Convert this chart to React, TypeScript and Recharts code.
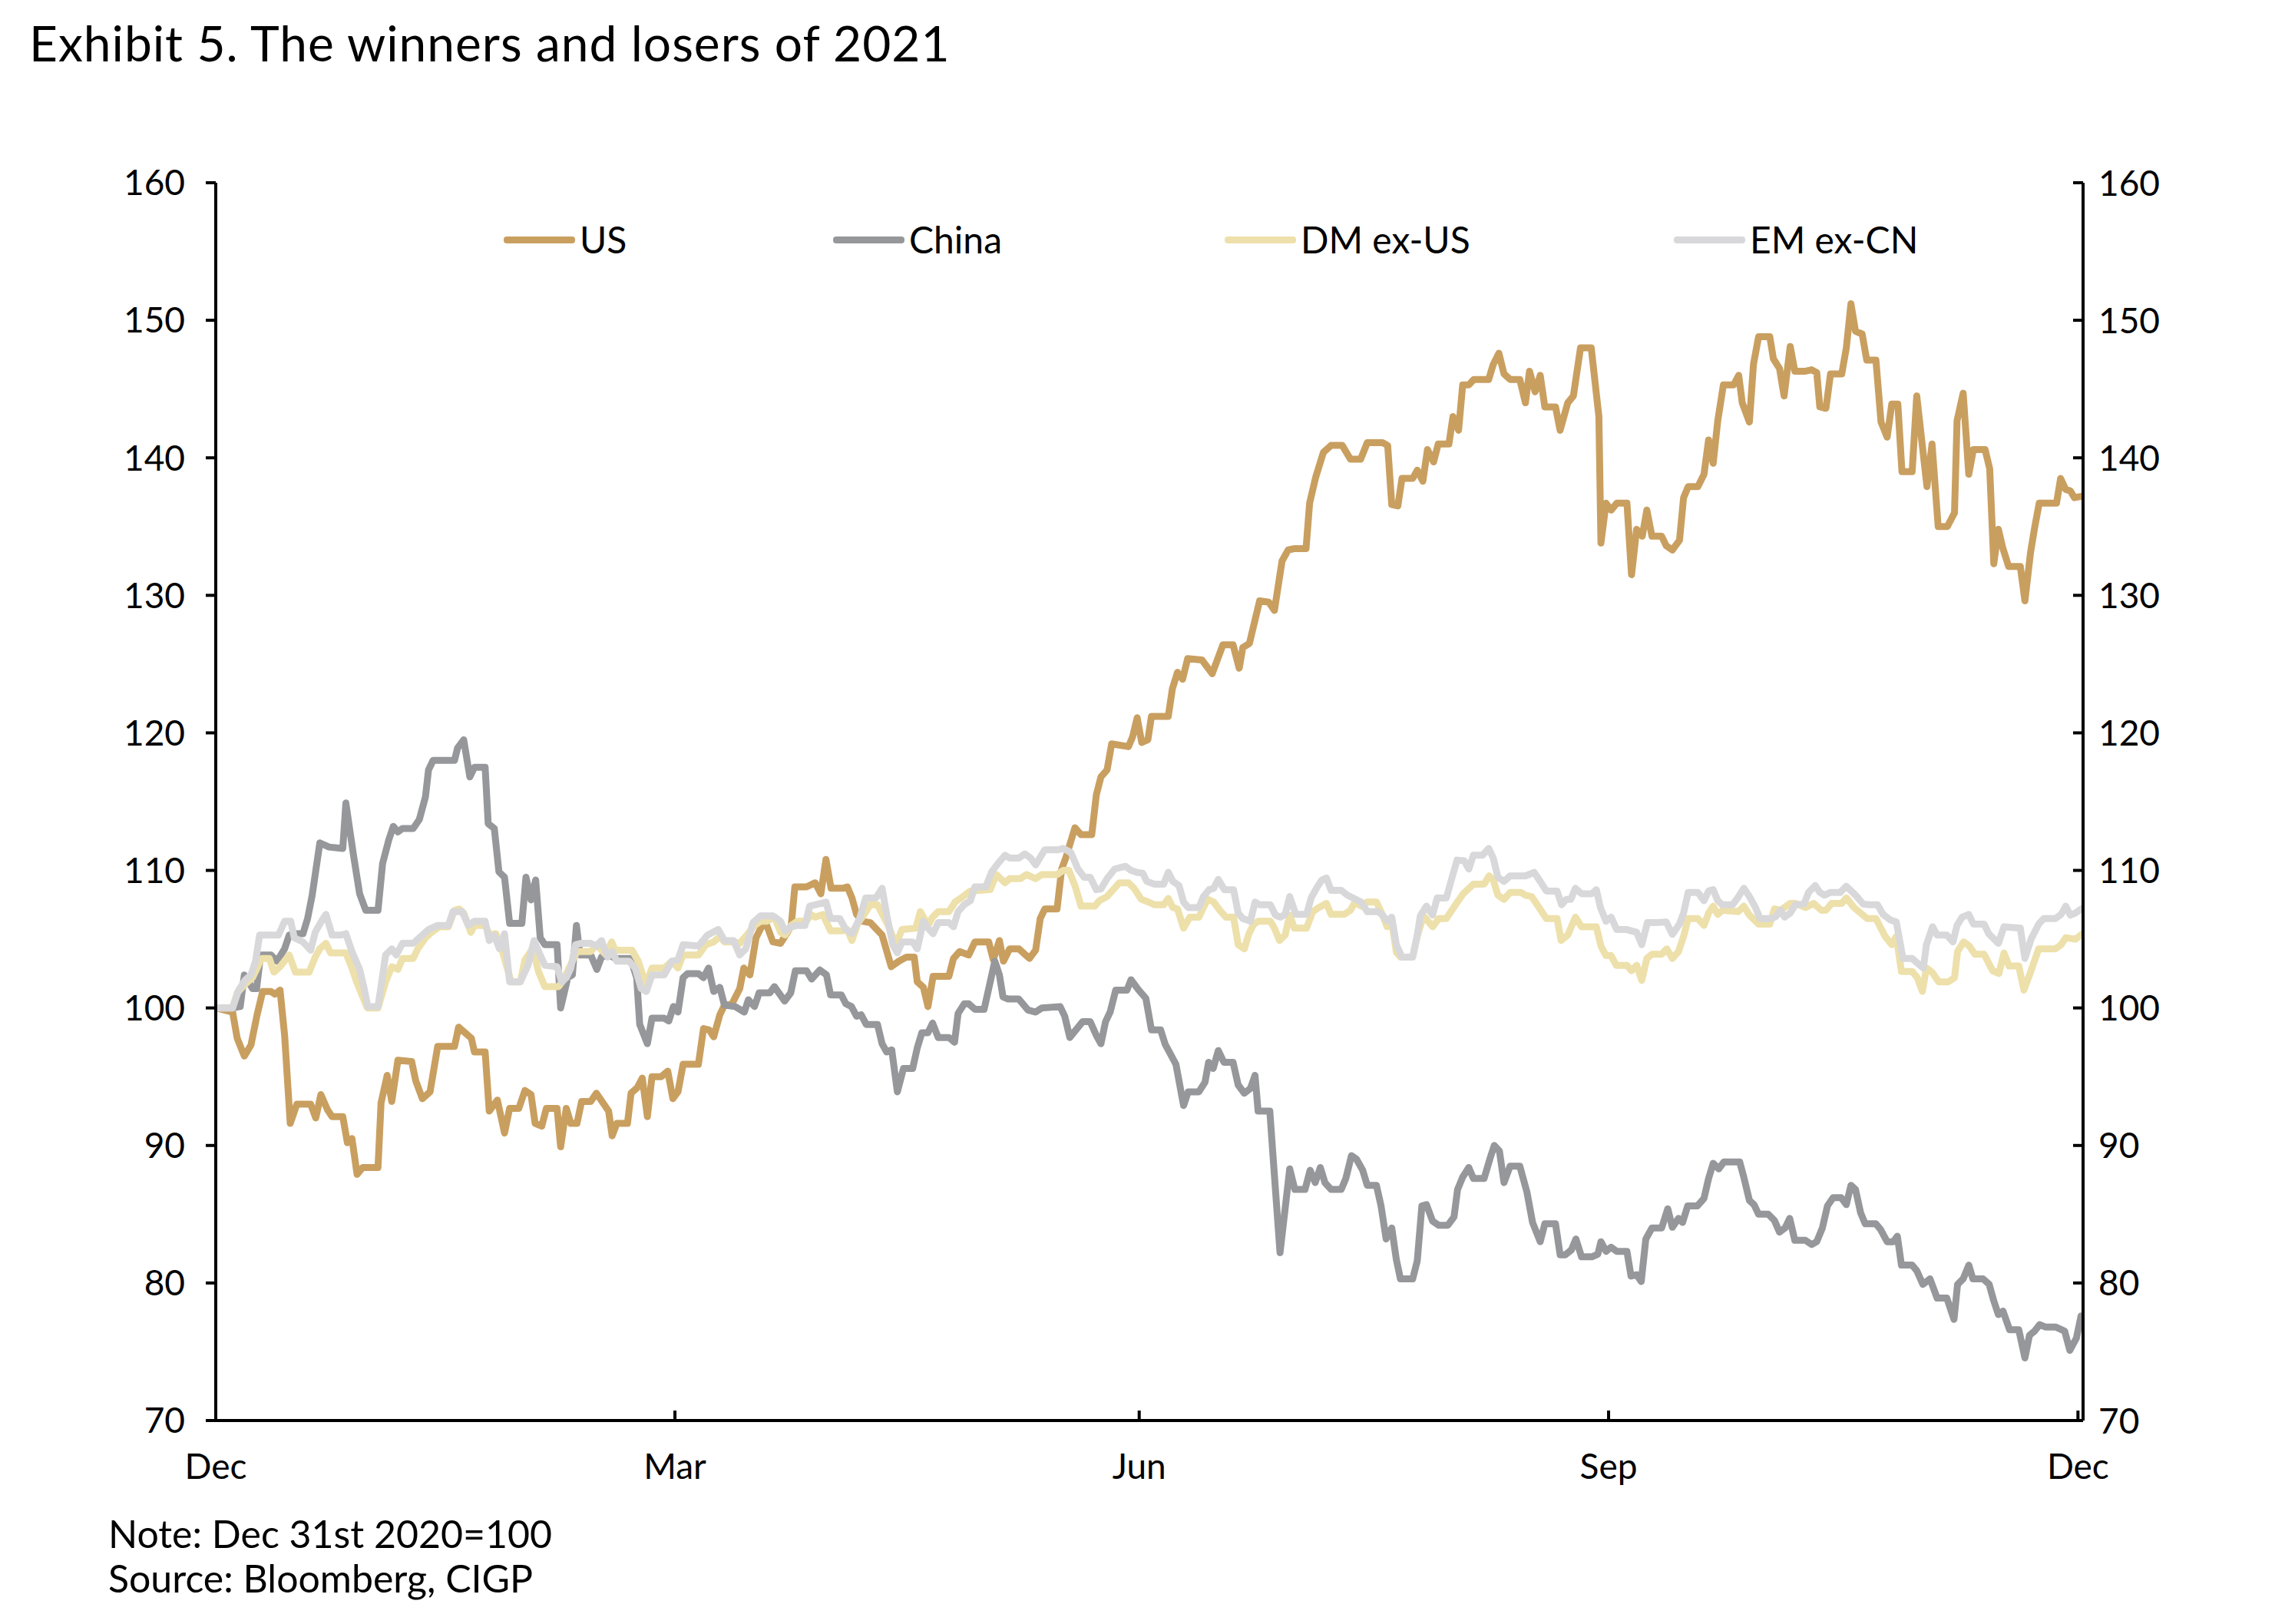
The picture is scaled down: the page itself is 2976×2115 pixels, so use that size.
import { LineChart, Line, XAxis, YAxis, Legend } from "recharts";

const FONT = "Lato, 'Noto Sans', sans-serif";

// x = days since Dec 31st 2020, y = index (Dec 31st 2020 = 100)
const monthTicks = [0, 90, 181, 273, 365];
const monthLabels = ["Dec", "Mar", "Jun", "Sep", "Dec"];
const valueTicks = [70, 80, 90, 100, 110, 120, 130, 140, 150, 160];

const usSeries: [number, number][] = [
  [0, 100], [3.3, 99.7], [4.2, 97.8], [5.6, 96.5], [6.9, 97.3], [8.1, 99.5], [9.2, 101.2], [10.8, 101.2],
  [11.6, 101.0], [12.6, 101.3], [13.5, 98.0], [14.6, 91.6], [15.9, 93.0], [18.6, 93.0], [19.6, 92.0],
  [20.6, 93.7], [21.9, 92.6], [22.8, 92.1], [24.9, 92.1], [25.8, 90.2], [26.7, 90.5], [27.7, 87.9],
  [28.8, 88.4], [31.8, 88.4], [32.4, 93.1], [33.6, 95.1], [34.5, 93.2], [35.7, 96.2], [38.4, 96.1],
  [39.2, 94.7], [40.5, 93.4], [42.0, 93.9], [43.5, 97.2], [46.8, 97.2], [47.6, 98.6], [50.1, 97.8],
  [50.7, 96.8], [52.8, 96.8], [53.6, 92.5], [55.2, 93.3], [56.6, 90.9], [57.6, 92.7], [59.4, 92.7],
  [60.6, 94.0], [61.8, 93.7], [62.6, 91.6], [63.9, 91.4], [64.8, 92.7], [66.9, 92.7], [67.6, 89.9],
  [68.7, 92.7], [69.6, 91.6], [70.8, 91.6], [71.7, 93.2], [73.5, 93.2], [74.6, 93.8], [77.0, 92.5],
  [77.7, 90.7], [78.6, 91.6], [80.7, 91.6], [81.4, 93.8], [82.6, 94.2], [83.6, 94.9], [84.6, 92.1],
  [85.5, 95.0], [87.3, 95.0], [88.6, 95.4], [89.6, 93.4], [90.6, 93.9], [91.6, 95.9], [94.6, 95.9],
  [95.6, 98.5], [96.7, 98.4], [97.6, 97.9], [98.8, 99.5], [99.7, 100.2], [101.2, 100.3], [102.7, 101.4],
  [103.5, 102.9], [104.7, 102.4], [105.9, 105.1], [107.1, 106.0], [108.0, 106.0], [109.2, 104.8],
  [110.7, 104.7], [111.9, 105.4], [112.8, 106.0], [113.5, 108.8], [115.8, 108.8], [117.5, 109.1],
  [118.6, 108.3], [119.6, 110.8], [120.6, 108.7], [122.9, 108.7], [123.8, 108.8], [124.7, 108.0],
  [125.6, 106.8], [126.8, 106.3], [128.3, 106.2], [130.6, 105.3], [132.4, 103.0], [133.9, 103.4],
  [135.4, 103.7], [136.9, 103.7], [137.5, 101.9], [138.7, 101.5], [139.6, 100.1], [140.6, 102.3],
  [143.7, 102.3], [144.6, 103.6], [145.8, 104.1], [147.6, 103.85], [148.8, 104.8], [151.5, 104.8],
  [152.4, 103.5], [153.6, 104.9], [154.4, 103.4], [155.6, 104.3], [157.4, 104.3], [158.6, 103.9],
  [159.5, 103.6], [160.7, 104.2], [161.6, 106.5], [162.5, 107.2], [164.9, 107.2], [165.8, 110.1],
  [166.6, 110.9], [168.4, 113.1], [169.6, 112.6], [171.7, 112.6], [172.6, 115.5], [173.5, 116.8],
  [174.7, 117.3], [175.6, 119.2], [178.9, 119.0], [179.7, 119.7], [180.6, 121.1], [181.5, 119.3],
  [182.7, 119.5], [183.4, 121.2], [186.7, 121.2], [187.5, 123.2], [188.5, 124.4], [189.5, 123.9],
  [190.5, 125.4], [193.3, 125.3], [195.3, 124.3], [197.4, 126.4], [199.4, 126.4], [200.6, 124.7],
  [201.3, 126.2], [202.6, 126.5], [204.6, 129.6], [206.4, 129.5], [207.5, 128.9], [209.0, 132.5],
  [210.2, 133.3], [211.5, 133.4], [213.7, 133.4], [214.4, 136.7], [215.6, 138.6], [217.1, 140.4],
  [218.6, 140.9], [220.8, 140.9], [222.4, 139.9], [224.4, 139.9], [225.7, 141.1], [228.7, 141.1],
  [229.7, 140.9], [230.5, 136.6], [231.7, 136.5], [232.5, 138.5], [234.6, 138.5], [235.5, 139.1],
  [236.6, 138.3], [237.5, 140.6], [238.7, 139.7], [239.6, 141.0], [241.7, 141.0], [242.5, 143.0],
  [243.6, 142.0], [244.4, 145.3], [245.6, 145.3], [246.6, 145.7], [249.5, 145.7], [250.4, 146.8],
  [251.5, 147.6], [252.5, 146.1], [253.7, 145.7], [255.6, 145.7], [256.7, 144.0], [257.5, 146.3],
  [258.6, 144.8], [259.6, 146.0], [260.5, 143.7], [262.6, 143.7], [263.5, 142.0], [265.0, 144.0],
  [266.1, 144.5], [267.5, 148.0], [269.6, 148.0], [271.1, 143.0], [271.5, 133.8], [272.5, 136.7],
  [273.5, 136.2], [274.6, 136.7], [276.6, 136.7], [277.5, 131.5], [278.5, 134.8], [279.6, 134.3],
  [280.5, 136.2], [281.5, 134.3], [283.4, 134.3], [284.3, 133.6], [285.5, 133.3], [286.9, 134.0],
  [287.7, 137.1], [288.6, 137.9], [290.5, 137.9], [291.7, 138.8], [292.6, 141.3], [293.5, 139.6],
  [294.4, 142.7], [295.5, 145.3], [297.5, 145.3], [298.5, 146.0], [299.2, 144.0], [300.6, 142.6],
  [301.4, 146.8], [302.4, 148.8], [304.6, 148.8], [305.3, 147.2], [306.5, 146.5], [307.4, 144.5],
  [308.6, 148.1], [309.5, 146.3], [311.6, 146.3], [312.8, 146.4], [313.8, 146.2], [314.4, 143.7],
  [315.6, 143.6], [316.5, 146.1], [318.7, 146.1], [319.6, 148.0], [320.5, 151.2], [321.4, 149.2],
  [322.7, 149.0], [323.6, 147.1], [325.4, 147.1], [326.4, 142.6], [327.6, 141.5], [328.5, 143.9],
  [329.7, 143.9], [330.5, 139.0], [332.5, 139.0], [333.4, 144.5], [335.4, 137.9], [336.4, 141.0],
  [337.6, 135.0], [339.4, 135.0], [340.8, 136.0], [341.3, 142.7], [342.5, 144.7], [343.6, 138.8],
  [344.5, 140.6], [346.8, 140.6], [347.7, 139.2], [348.5, 132.3], [349.4, 134.8], [350.3, 133.4],
  [351.4, 132.1], [353.7, 132.1], [354.6, 129.6], [355.7, 133.1], [356.5, 134.9], [357.4, 136.7],
  [360.8, 136.7], [361.6, 138.5], [362.6, 137.7], [363.5, 137.6], [364.3, 137.1], [365.7, 137.2],
];

const chinaSeries: [number, number][] = [
  [0, 100], [3.3, 100], [4.8, 100.1], [5.6, 102.4], [6.3, 102.0], [7.2, 101.4], [8.0, 101.4],
  [8.8, 103.85], [10.8, 103.85], [12.0, 103.4], [13.5, 104.3], [14.4, 105.3], [15.3, 105.4],
  [17.1, 105.4], [18.0, 106.5], [18.9, 108.2], [20.4, 112.0], [22.2, 111.7], [24.9, 111.6],
  [25.5, 114.9], [27.0, 111.1], [28.2, 108.3], [29.4, 107.1], [31.8, 107.1], [32.7, 110.5],
  [33.9, 112.2], [34.8, 113.2], [35.7, 112.8], [36.6, 113.05], [38.7, 113.05], [39.9, 113.7],
  [41.1, 115.35], [41.7, 117.3], [42.6, 118.0], [46.8, 118.0], [47.4, 118.9], [48.6, 119.5],
  [49.8, 116.8], [50.7, 117.5], [52.8, 117.5], [53.4, 113.4], [54.6, 113.05], [55.5, 109.9],
  [56.6, 109.5], [57.6, 106.15], [60.0, 106.15], [60.8, 109.5], [61.8, 107.85], [62.7, 109.3],
  [63.6, 105.1], [64.5, 104.6], [66.9, 104.6], [67.6, 100.0], [69.0, 102.2], [69.9, 102.4],
  [70.7, 106.0], [71.4, 103.85], [73.5, 103.85], [74.7, 102.8], [75.6, 103.7], [77.1, 103.85],
  [78.3, 103.6], [81.3, 103.6], [82.5, 102.2], [83.1, 98.8], [84.6, 97.4], [85.5, 99.25],
  [87.9, 99.25], [88.8, 99.05], [89.7, 100.1], [90.6, 99.7], [91.6, 102.2], [92.5, 102.5],
  [94.6, 102.5], [95.6, 102.2], [96.6, 102.9], [97.6, 101.2], [98.8, 101.5], [99.7, 100.2],
  [101.8, 100.1], [103.6, 99.7], [104.4, 100.6], [105.6, 100.1], [106.5, 101.1], [108.6, 101.1],
  [109.5, 101.55], [111.5, 100.5], [112.7, 101.1], [113.6, 102.7], [115.8, 102.7], [116.8, 102.1],
  [118.4, 102.76], [119.7, 102.4], [120.5, 100.95], [122.6, 100.95], [123.5, 100.3], [124.6, 100.1],
  [125.6, 99.4], [126.5, 99.5], [127.5, 98.8], [129.7, 98.8], [130.6, 97.4], [131.5, 96.8],
  [132.5, 96.95], [133.6, 93.9], [134.8, 95.6], [136.6, 95.6], [137.5, 97.1], [138.4, 98.2],
  [139.6, 98.2], [140.5, 98.9], [141.6, 97.85], [143.7, 97.85], [144.8, 97.5], [145.5, 99.6],
  [146.7, 100.3], [147.6, 100.3], [148.8, 99.9], [150.6, 99.9], [152.7, 103.4], [153.6, 102.4],
  [154.3, 100.8], [155.3, 100.65], [157.4, 100.65], [159.2, 99.85], [160.7, 99.7], [161.9, 100.0],
  [165.5, 100.1], [166.4, 99.4], [167.4, 97.85], [169.9, 99.0], [171.4, 99.0], [172.6, 98.0],
  [173.5, 97.4], [174.4, 99.0], [175.3, 99.7], [176.4, 101.3], [178.6, 101.3], [179.4, 102.05],
  [180.9, 101.3], [182.3, 100.7], [183.4, 98.4], [185.2, 98.4], [186.1, 97.35], [188.2, 95.9],
  [189.7, 92.9], [190.6, 93.9], [192.7, 93.9], [193.9, 94.6], [194.6, 96.05], [195.5, 95.6],
  [196.5, 96.9], [197.6, 96.05], [199.4, 96.05], [200.4, 94.4], [201.6, 93.8], [202.8, 94.15],
  [203.7, 95.1], [204.3, 92.5], [206.6, 92.5], [207.1, 89.9], [208.6, 82.2], [209.6, 85.4],
  [210.5, 88.3], [211.5, 86.8], [213.5, 86.8], [214.5, 88.2], [215.5, 87.3], [216.5, 88.4],
  [217.4, 87.3], [218.6, 86.8], [220.6, 86.8], [221.5, 87.6], [222.6, 89.26], [223.6, 89.0],
  [224.8, 88.2], [225.7, 87.1], [227.5, 87.1], [228.4, 85.6], [229.4, 83.2], [230.5, 84.0],
  [231.4, 81.7], [232.2, 80.3], [234.6, 80.3], [235.5, 81.6], [236.4, 85.6], [237.3, 85.7],
  [238.5, 84.5], [239.7, 84.2], [241.5, 84.2], [242.7, 84.8], [243.4, 86.8], [244.4, 87.7],
  [245.6, 88.4], [246.5, 87.6], [248.6, 87.6], [249.8, 89.1], [250.6, 90.0], [251.6, 89.6],
  [252.5, 87.3], [253.7, 88.5], [255.6, 88.5], [257.0, 86.6], [258.1, 84.4], [259.6, 83.0],
  [260.5, 84.3], [262.6, 84.3], [263.5, 82.05], [264.5, 82.05], [265.7, 82.4], [266.6, 83.2],
  [267.7, 81.9], [269.7, 81.9], [270.9, 82.1], [271.5, 83.0], [272.5, 82.3], [273.5, 82.6],
  [274.6, 82.3], [276.6, 82.3], [277.4, 80.5], [278.5, 80.6], [279.4, 80.1], [280.3, 83.2],
  [281.5, 84.0], [283.4, 84.0], [284.6, 85.4], [285.5, 84.05], [286.7, 84.7], [287.5, 84.4],
  [288.5, 85.6], [290.4, 85.6], [291.7, 86.15], [292.6, 87.6], [293.5, 88.7], [294.6, 88.3],
  [295.6, 88.8], [298.7, 88.8], [299.5, 87.7], [300.6, 86.0], [301.5, 85.7], [302.4, 85.0],
  [304.3, 85.0], [305.5, 84.55], [306.5, 83.7], [307.6, 84.0], [308.5, 84.7], [309.5, 83.1],
  [311.6, 83.1], [312.8, 82.8], [313.8, 83.0], [314.9, 84.0], [315.9, 85.6], [317.0, 86.2],
  [318.6, 86.2], [319.6, 85.7], [320.5, 87.1], [321.4, 86.8], [322.4, 85.1], [323.3, 84.3],
  [325.4, 84.3], [326.3, 83.9], [327.6, 83.0], [328.8, 83.0], [329.6, 83.4], [330.4, 81.3],
  [332.5, 81.3], [333.4, 80.9], [334.6, 79.9], [336.0, 80.3], [337.4, 78.9], [339.3, 78.9],
  [340.7, 77.35], [341.4, 79.9], [342.5, 80.3], [343.6, 81.3], [344.4, 80.3], [346.4, 80.3],
  [347.6, 79.9], [348.5, 78.7], [349.4, 77.7], [350.3, 77.96], [351.6, 76.6], [353.4, 76.6],
  [354.6, 74.55], [355.5, 76.2], [356.5, 76.5], [357.5, 76.97], [358.6, 76.8], [360.6, 76.8],
  [362.4, 76.5], [363.4, 75.1], [364.7, 76.0], [365.6, 77.6],
];

const dmSeries: [number, number][] = [
  [0, 100], [3.3, 100], [4.2, 101.1], [5.7, 101.7], [7.2, 102.2], [8.1, 102.9], [9.0, 103.6],
  [10.5, 103.6], [11.4, 102.6], [12.6, 103.0], [14.4, 103.85], [15.6, 102.6], [18.3, 102.6],
  [19.5, 103.7], [20.4, 104.3], [21.6, 104.7], [22.5, 104.0], [25.5, 104.0], [26.7, 102.9],
  [27.6, 101.9], [29.7, 100.0], [31.8, 100.0], [33.3, 101.9], [34.5, 103.0], [35.7, 102.8],
  [36.6, 103.6], [38.7, 103.6], [39.6, 104.3], [41.1, 105.1], [42.3, 105.5], [43.8, 105.9],
  [45.6, 105.9], [46.8, 107.1], [47.7, 107.2], [48.6, 106.9], [50.0, 105.5], [50.7, 106.0],
  [52.8, 106.0], [53.7, 105.3], [54.9, 105.4], [55.8, 104.6], [57.9, 101.9], [59.7, 101.9],
  [60.6, 103.5], [62.1, 104.3], [63.3, 102.6], [64.5, 101.55], [67.2, 101.55], [68.1, 102.0],
  [69.9, 103.4], [70.8, 104.1], [73.5, 104.1], [74.6, 104.6], [76.5, 103.85], [77.6, 104.8],
  [78.3, 104.2], [81.6, 104.2], [82.8, 103.4], [84.3, 101.7], [85.5, 102.9], [87.9, 102.9],
  [89.4, 103.4], [90.6, 102.9], [91.6, 103.85], [94.6, 103.85], [96.1, 104.6], [97.6, 104.8],
  [98.8, 105.2], [99.7, 104.8], [101.5, 104.8], [102.7, 104.7], [104.1, 105.3], [105.6, 106.0],
  [106.8, 106.3], [108.0, 106.3], [109.5, 106.6], [110.7, 105.5], [111.6, 105.3], [112.8, 106.0],
  [114.0, 106.3], [115.8, 106.3], [116.6, 106.8], [117.5, 106.6], [119.0, 106.8], [120.5, 105.6],
  [122.6, 105.6], [123.8, 105.7], [124.7, 104.9], [125.9, 106.2], [127.1, 106.8], [128.3, 107.5],
  [129.7, 107.5], [131.8, 106.0], [133.3, 104.6], [134.5, 105.7], [137.2, 105.8], [138.1, 107.0],
  [139.6, 106.0], [140.5, 106.6], [141.6, 107.0], [143.7, 107.0], [144.9, 107.7], [146.1, 108.0],
  [147.9, 108.5], [151.8, 108.6], [153.0, 109.7], [154.7, 109.1], [155.6, 109.4], [157.7, 109.4],
  [158.9, 109.7], [160.7, 109.4], [161.9, 109.7], [164.9, 109.7], [166.1, 110.0], [167.2, 110.0],
  [168.4, 108.9], [169.6, 107.4], [172.3, 107.4], [173.2, 107.8], [174.7, 108.1], [175.9, 108.6],
  [177.1, 109.1], [178.9, 109.1], [180.0, 108.7], [181.4, 107.9], [182.8, 107.7], [184.0, 107.5],
  [185.8, 107.5], [186.7, 107.96], [187.6, 107.3], [188.5, 107.2], [189.7, 105.8], [190.9, 106.6],
  [192.7, 106.6], [193.6, 107.3], [194.4, 107.9], [195.6, 107.7], [196.8, 107.1], [198.0, 106.6],
  [199.5, 106.6], [200.4, 104.6], [201.6, 104.3], [202.5, 105.4], [203.4, 106.06], [204.3, 106.3],
  [206.7, 106.3], [207.5, 105.8], [208.5, 104.9], [209.6, 105.3], [210.5, 106.75], [211.4, 105.8],
  [213.8, 105.8], [215.0, 107.0], [216.2, 107.3], [217.7, 107.6], [218.6, 106.8], [221.2, 106.8],
  [222.4, 107.1], [223.3, 107.7], [224.5, 107.4], [225.7, 107.7], [227.5, 107.7], [228.7, 106.75],
  [229.6, 105.9], [230.5, 106.3], [231.4, 104.05], [232.2, 103.7], [234.6, 103.7], [235.5, 105.2],
  [236.7, 106.7], [238.5, 105.9], [239.7, 106.5], [241.2, 106.5], [243.0, 107.5], [244.5, 108.3],
  [246.5, 109.0], [248.6, 109.0], [249.6, 109.6], [250.4, 109.3], [251.3, 108.2], [252.5, 107.9],
  [253.7, 108.4], [255.8, 108.4], [256.7, 108.2], [257.9, 108.1], [259.0, 107.5], [260.8, 106.5],
  [262.9, 106.5], [263.7, 104.9], [265.0, 105.3], [266.5, 106.6], [267.7, 105.9], [270.6, 105.9],
  [271.5, 104.5], [272.5, 103.8], [273.5, 103.8], [274.5, 103.1], [276.6, 103.1], [277.5, 102.7],
  [278.5, 103.1], [279.5, 102.0], [280.5, 103.6], [281.5, 103.9], [283.4, 103.9], [284.4, 104.3],
  [285.5, 103.6], [286.7, 104.1], [287.7, 105.2], [288.6, 106.5], [290.5, 106.5], [291.7, 106.0],
  [292.6, 106.9], [293.5, 107.4], [294.4, 106.8], [295.3, 107.1], [298.4, 107.0], [299.5, 107.4],
  [300.6, 106.75], [302.4, 106.1], [304.6, 106.1], [305.5, 107.2], [306.7, 107.1], [308.6, 107.6],
  [309.6, 107.6], [311.6, 107.3], [313.2, 107.6], [314.7, 107.1], [315.6, 107.1], [316.7, 107.6],
  [318.7, 107.6], [319.6, 108.0], [321.1, 107.3], [322.7, 106.8], [323.7, 106.5], [325.4, 106.5],
  [327.2, 105.2], [328.5, 104.6], [329.4, 105.2], [330.4, 102.65], [332.5, 102.65], [333.5, 102.2],
  [334.5, 101.2], [335.3, 102.9], [336.4, 102.6], [337.7, 101.9], [339.6, 101.9], [340.8, 102.2],
  [341.4, 104.1], [342.6, 104.8], [343.7, 104.5], [344.8, 103.9], [346.6, 103.9], [348.3, 102.7],
  [349.5, 102.5], [350.5, 104.0], [351.5, 103.05], [353.4, 103.05], [354.4, 101.3], [355.7, 102.6],
  [357.3, 104.3], [360.6, 104.3], [361.7, 104.6], [362.6, 105.1], [364.5, 105.0], [365.9, 105.4],
];

const emSeries: [number, number][] = [
  [0, 100], [3.3, 100], [4.5, 101.3], [5.7, 102.0], [6.9, 102.4], [7.8, 103.4], [8.6, 105.3],
  [12.3, 105.3], [13.5, 106.3], [14.7, 106.3], [15.4, 105.1], [17.1, 104.8], [18.6, 104.2],
  [19.5, 105.5], [20.7, 106.3], [21.6, 106.8], [22.8, 105.3], [24.6, 105.3], [25.5, 105.4],
  [26.7, 104.1], [28.2, 102.8], [29.1, 101.4], [29.8, 100.1], [31.8, 100.1], [33.3, 103.85],
  [34.5, 104.3], [35.4, 103.85], [36.6, 104.7], [38.7, 104.7], [40.2, 105.2], [41.7, 105.7],
  [43.5, 106.0], [45.6, 106.0], [46.5, 107.0], [48.3, 107.0], [49.5, 106.0], [50.7, 106.3],
  [52.8, 106.3], [53.6, 104.9], [54.6, 105.3], [55.6, 104.3], [56.6, 105.4], [57.6, 101.9],
  [59.7, 101.9], [61.2, 103.1], [62.4, 104.9], [63.3, 104.1], [64.5, 103.1], [66.9, 103.0],
  [67.8, 101.9], [68.7, 102.2], [69.6, 102.9], [70.5, 104.6], [71.7, 104.7], [73.5, 104.7],
  [74.6, 104.5], [75.6, 104.9], [76.8, 103.7], [77.7, 104.1], [78.6, 103.4], [81.0, 103.4],
  [82.2, 102.9], [83.4, 101.4], [84.4, 101.2], [85.5, 102.4], [87.9, 102.4], [89.4, 103.4],
  [90.6, 103.5], [91.6, 104.6], [94.6, 104.5], [96.4, 105.3], [98.5, 105.7], [99.7, 104.9],
  [101.5, 104.9], [102.7, 103.85], [103.9, 104.3], [105.3, 106.2], [106.8, 106.7], [109.2, 106.7],
  [110.7, 106.3], [111.6, 105.6], [112.8, 105.9], [114.0, 106.0], [115.5, 106.0], [116.4, 107.4],
  [117.5, 107.5], [119.6, 107.7], [120.5, 106.5], [122.3, 106.5], [123.5, 105.7], [124.7, 105.4],
  [126.2, 106.5], [127.4, 108.0], [129.4, 108.0], [130.6, 108.7], [131.5, 106.8], [132.7, 104.6],
  [133.6, 104.0], [134.5, 104.8], [136.6, 104.8], [137.5, 104.3], [138.7, 106.3], [139.6, 105.8],
  [140.6, 105.4], [141.6, 106.2], [143.7, 106.2], [144.6, 105.9], [145.5, 107.0], [146.7, 107.5],
  [147.9, 107.8], [148.8, 108.8], [150.9, 108.8], [152.1, 109.9], [153.3, 110.5], [154.7, 111.1],
  [155.6, 110.9], [157.4, 110.9], [158.6, 111.2], [159.7, 110.9], [160.7, 110.4], [162.5, 111.5],
  [165.2, 111.5], [166.1, 111.6], [167.6, 111.3], [169.0, 110.1], [170.2, 109.5], [171.4, 109.5],
  [172.6, 108.6], [173.5, 108.65], [174.7, 109.4], [176.2, 110.1], [178.3, 110.3], [179.4, 110.0],
  [180.6, 109.85], [181.7, 109.8], [182.5, 109.2], [184.0, 109.0], [185.8, 109.0], [186.7, 109.86],
  [187.6, 109.2], [188.8, 108.9], [189.7, 107.7], [190.6, 107.3], [192.7, 107.3], [193.6, 108.1],
  [194.7, 108.6], [195.6, 108.7], [196.5, 109.35], [197.7, 108.6], [199.5, 108.6], [200.4, 106.9],
  [201.3, 106.5], [202.8, 106.3], [203.7, 107.7], [204.6, 107.5], [206.7, 107.5], [207.7, 106.75],
  [208.7, 106.6], [209.6, 106.8], [210.5, 108.1], [211.7, 106.8], [213.8, 106.8], [214.7, 108.0],
  [215.9, 108.8], [216.8, 109.3], [217.7, 109.45], [218.6, 108.55], [220.6, 108.55], [221.8, 108.2],
  [224.5, 107.7], [225.7, 107.0], [227.8, 107.0], [228.7, 106.75], [229.6, 106.3], [230.5, 106.6],
  [231.4, 104.6], [232.5, 103.7], [234.6, 103.7], [235.5, 105.3], [236.1, 106.7], [237.3, 107.4],
  [238.5, 106.75], [239.4, 108.0], [241.2, 108.0], [242.1, 109.2], [243.3, 110.75], [244.7, 110.7],
  [245.6, 110.1], [246.5, 111.1], [248.3, 111.1], [249.5, 111.6], [250.4, 110.9], [251.3, 109.5],
  [252.5, 109.2], [253.7, 109.6], [256.7, 109.6], [258.4, 109.86], [259.6, 109.2], [260.8, 108.5],
  [262.9, 108.5], [263.8, 107.5], [264.7, 107.9], [265.6, 107.9], [266.5, 108.7], [267.7, 108.3],
  [269.7, 108.3], [270.6, 108.6], [271.4, 107.3], [272.5, 106.3], [273.5, 106.6], [274.6, 105.7],
  [276.6, 105.7], [277.5, 105.6], [278.5, 105.5], [279.5, 104.6], [280.6, 106.2], [282.1, 106.2],
  [284.3, 106.25], [285.5, 105.35], [286.9, 106.1], [287.7, 106.9], [288.6, 108.4], [290.5, 108.4],
  [291.7, 107.8], [292.6, 108.5], [293.5, 108.6], [294.4, 107.8], [295.3, 107.5], [297.3, 107.5],
  [298.4, 108.05], [299.5, 108.7], [300.6, 108.1], [301.8, 107.3], [302.7, 106.5], [304.9, 106.5],
  [305.8, 106.65], [306.7, 107.1], [307.5, 106.6], [308.6, 106.9], [309.6, 107.5], [311.3, 107.55],
  [312.2, 108.4], [313.5, 108.9], [314.4, 108.4], [315.3, 108.2], [316.5, 108.4], [318.4, 108.4],
  [319.6, 108.85], [321.4, 108.2], [322.9, 107.55], [324.2, 107.5], [325.7, 107.5], [326.8, 106.8],
  [328.2, 106.4], [329.4, 106.25], [330.7, 103.6], [332.5, 103.6], [333.4, 103.3], [334.7, 102.9],
  [335.3, 104.6], [336.5, 105.9], [337.4, 105.3], [339.3, 105.3], [340.5, 104.8], [341.3, 106.0],
  [342.3, 106.6], [343.6, 106.8], [344.5, 106.1], [346.6, 106.1], [347.5, 105.4], [349.4, 104.7],
  [350.5, 105.9], [353.7, 105.8], [354.6, 103.6], [355.8, 105.0], [357.3, 106.1], [358.3, 106.5],
  [360.6, 106.5], [361.7, 106.8], [362.6, 107.4], [363.5, 106.75], [364.5, 106.9], [365.9, 107.25],
];

const series = [
  { name: "US", color: "#C99F60", points: usSeries },
  { name: "China", color: "#96979A", points: chinaSeries },
  { name: "DM ex-US", color: "#EDE0AA", points: dmSeries },
  { name: "EM ex-CN", color: "#D8D8DA", points: emSeries },
];

const toRows = (pts: [number, number][]) => pts.map(([day, value]) => ({ day, value }));

const TICK_LEN = 13;
const AXIS_STROKE = 4;
const X_LABEL_GAP = 43;
const RIGHT_LABEL_GAP = 20;
const LEGEND_ITEM_WIDTHS = [429, 510, 585, 320];

function XTick(props: any) {
  const { x, y, payload } = props;
  const idx = monthTicks.indexOf(payload.value);
  const axisY = y - X_LABEL_GAP;
  return (
    <g>
      <line x1={x} x2={x} y1={axisY} y2={axisY - TICK_LEN} stroke="#000" strokeWidth={AXIS_STROKE} />
      <text x={x} y={y} dy="0.72em" textAnchor="middle" fontFamily={FONT} fontSize={46} fill="#000">
        {monthLabels[idx]}
      </text>
    </g>
  );
}

function RightTick(props: any) {
  const { x, y, payload } = props;
  const axisX = x - RIGHT_LABEL_GAP;
  return (
    <g>
      <line x1={axisX - TICK_LEN} x2={axisX} y1={y} y2={y} stroke="#000" strokeWidth={AXIS_STROKE} />
      <text x={x} y={y} dy="0.36em" textAnchor="start" fontFamily={FONT} fontSize={46} fill="#000">
        {payload.value}
      </text>
    </g>
  );
}

function LegendBox() {
  return (
    <div style={{ display: "flex", alignItems: "center", fontFamily: FONT, fontSize: 48, color: "#000" }}>
      {series.map((s, i) => (
        <div key={s.name} style={{ display: "flex", alignItems: "center", width: LEGEND_ITEM_WIDTHS[i] }}>
          <span style={{ display: "inline-block", width: 93, height: 9, borderRadius: 4, background: s.color, marginRight: 6 }} />
          <span style={{ lineHeight: "48px" }}>{s.name}</span>
        </div>
      ))}
    </div>
  );
}

export default function App() {
  return (
    <div
      style={{
        position: "absolute",
        left: 0,
        top: 0,
        width: 2976,
        height: 2115,
        background: "#fff",
        overflow: "hidden",
        fontFamily: FONT,
      }}
    >
      <div style={{ position: "absolute", left: 38, top: 24, fontSize: 64, lineHeight: "64px", letterSpacing: 1, color: "#000" }}>
        Exhibit 5. The winners and losers of 2021
      </div>

      <LineChart width={2976} height={2115} margin={{ top: 238, right: 63, bottom: 165, left: 81 }}>
        <XAxis
          type="number"
          dataKey="day"
          domain={[0, 366]}
          ticks={monthTicks}
          interval={0}
          allowDataOverflow
          height={100}
          tickSize={0}
          tickMargin={X_LABEL_GAP}
          tickLine={false}
          axisLine={{ stroke: "#000", strokeWidth: AXIS_STROKE }}
          tick={<XTick />}
        />
        <YAxis
          yAxisId="left"
          orientation="left"
          width={200}
          domain={[70, 160]}
          ticks={valueTicks}
          interval={0}
          allowDataOverflow
          tickSize={TICK_LEN}
          tickMargin={27}
          tickLine={{ stroke: "#000", strokeWidth: AXIS_STROKE }}
          axisLine={{ stroke: "#000", strokeWidth: AXIS_STROKE }}
          tick={{ fill: "#000", fontSize: 46, fontFamily: FONT }}
        />
        <YAxis
          yAxisId="right"
          orientation="right"
          width={200}
          domain={[70, 160]}
          ticks={valueTicks}
          interval={0}
          allowDataOverflow
          tickSize={0}
          tickMargin={RIGHT_LABEL_GAP}
          tickLine={false}
          axisLine={{ stroke: "#000", strokeWidth: AXIS_STROKE }}
          tick={<RightTick />}
        />
        <Legend
          layout="horizontal"
          verticalAlign="middle"
          align="center"
          wrapperStyle={{ top: 288, left: 656, width: "auto", height: "auto" }}
          content={() => <LegendBox />}
        />
        {series.map((s) => (
          <Line
            key={s.name}
            yAxisId="left"
            name={s.name}
            data={toRows(s.points)}
            dataKey="value"
            type="linear"
            stroke={s.color}
            strokeWidth={9}
            strokeLinejoin="round"
            strokeLinecap="round"
            dot={false}
            activeDot={false}
            isAnimationActive={false}
          />
        ))}
      </LineChart>

      <div style={{ position: "absolute", left: 141, top: 1972, fontSize: 50, lineHeight: "50px", color: "#000" }}>
        Note: Dec 31st 2020=100
      </div>
      <div style={{ position: "absolute", left: 141, top: 2030, fontSize: 50, lineHeight: "50px", color: "#000" }}>
        Source: Bloomberg, CIGP
      </div>
    </div>
  );
}
